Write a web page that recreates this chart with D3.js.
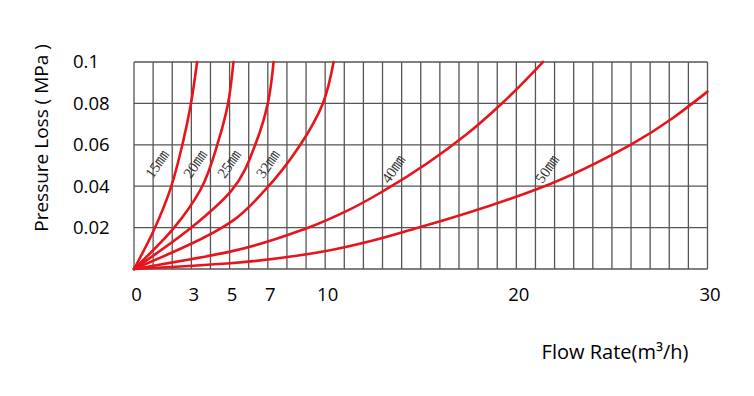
<!DOCTYPE html>
<html><head><meta charset="utf-8">
<script src="https://cdn.jsdelivr.net/npm/d3@7"></script>
<style>body{margin:0;background:#fff}svg{display:block}</style>
</head><body>
<svg id="c" width="754" height="396"></svg>
<script>
const xTicks = [0, 3, 5, 7, 10, 20, 30];
const yTicks = [0.02, 0.04, 0.06, 0.08, 0.1];
const seriesNames = ["15㎜", "20㎜", "25㎜", "32㎜", "40㎜", "50㎜"];
// [flow m3/h, pressure MPa]
const s15 = [[0,0],[1.0,0.018],[1.88,0.038],[2.58,0.062],[2.98,0.08],[3.3,0.1]];
const s20 = [[0,0],[2.1,0.02],[3.46,0.038],[4.42,0.062],[4.92,0.08],[5.2,0.1]];
const s25 = [[0,0],[3.0,0.02],[5.11,0.038],[6.42,0.062],[7.0,0.08],[7.3,0.1]];
const s32 = [[0,0],[5.1,0.0229],[6.86,0.0382],[8.7,0.06],[9.88,0.08],[10.44,0.1]];
const s40 = [[0,0],[5.03,0.0084],[9.04,0.0197],[11.3,0.0288],[13.14,0.0382],[17.35,0.0647],[19.34,0.0808],[21.39,0.1]];
const s50 = [[0,0],[5.03,0.0028],[9.04,0.0071],[11.3,0.0111],[14.9,0.02],[21.2,0.039],[25.97,0.06],[30,0.0857]];
const seriesData = [s15, s20, s25, s32, s40, s50];
// label centre (flow, pressure) for each series label
const labelAt = [[1.2,0.0507],[3.19,0.0507],[4.97,0.0507],[7.0,0.0507],[13.56,0.0483],[21.6,0.0483]];

const svg = d3.select("#c");
const L = 134, R = 707.5, T = 62, B = 269;
const x = d3.scaleLinear().domain([0, 30]).range([L, R]);
const y = d3.scaleLinear().domain([0, 0.1]).range([B, T]);
const grid = "#555";

const g = svg.append("g");
g.selectAll("line.v").data(d3.range(0, 31)).join("line")
  .attr("x1", d => x(d)).attr("x2", d => x(d)).attr("y1", T).attr("y2", B)
  .attr("stroke", grid).attr("stroke-width", 1.3);
g.selectAll("line.h").data([0].concat(yTicks)).join("line")
  .attr("x1", L).attr("x2", R).attr("y1", d => y(d)).attr("y2", d => y(d))
  .attr("stroke", grid).attr("stroke-width", 1.3);

const line = d3.line().x(d => x(d[0])).y(d => y(d[1])).curve(d3.curveMonotoneY);
svg.append("g").selectAll("path").data(seriesData).join("path")
  .attr("d", line).attr("fill", "none").attr("stroke", "#e8141c")
  .attr("stroke-width", 2.6).attr("stroke-linecap", "round");

svg.append("g").selectAll("text").data(seriesNames).join("text")
  .attr("transform", (d, i) => `translate(${x(labelAt[i][0])},${y(labelAt[i][1])}) rotate(-55)`)
  .attr("text-anchor", "middle").attr("dy", "0.35em")
  .attr("font-family", "'Liberation Serif','Noto Sans CJK SC',serif").attr("font-size", 15)
  .attr("fill", "#333").text(d => d);

const xa = svg.append("g").attr("transform", `translate(2,${B})`)
  .call(d3.axisBottom(x).tickValues(xTicks).tickFormat(d3.format("d")).tickSize(0).tickPadding(19));
const ya = svg.append("g").attr("transform", `translate(${L},0)`)
  .call(d3.axisLeft(y).tickValues(yTicks).tickFormat(d => d === 0.1 ? "0.1" : d3.format(".2f")(d)).tickSize(0).tickPadding(0));
[xa, ya].forEach(a => {
  a.select(".domain").remove();
  a.selectAll("text").attr("font-family", "'Open Sans',sans-serif").attr("font-size", 18.5).attr("fill", "#000");
});
ya.selectAll("text").attr("text-anchor", "start").attr("x", 73 - L);

svg.append("text").attr("x", 615).attr("y", 352).attr("dy", "0.35em").attr("text-anchor", "middle")
  .attr("font-family", "'Open Sans',sans-serif").attr("font-size", 20).attr("fill", "#000")
  .text("Flow Rate(m³/h)");
svg.append("text").attr("transform", "translate(41,138) rotate(-90)").attr("dy", "0.35em").attr("text-anchor", "middle")
  .attr("font-family", "'Open Sans',sans-serif").attr("font-size", 19).attr("fill", "#000")
  .text("Pressure Loss ( MPa )");
</script>
</body></html>
